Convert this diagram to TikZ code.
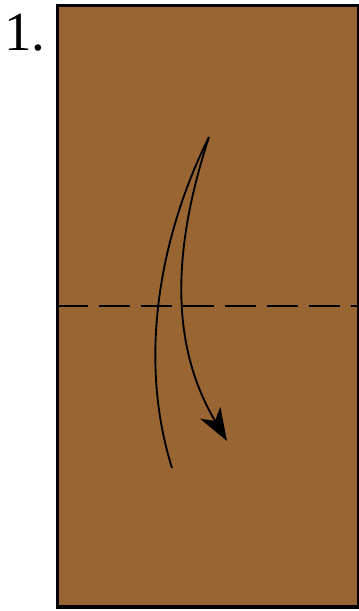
\documentclass[tikz,border=0pt]{standalone}
\usepackage{fontspec}
\setmainfont{Liberation Serif}
\usepackage{tikz}
\usetikzlibrary{arrows.meta, positioning}
\definecolor{paperbrown}{HTML}{996633}

\begin{document}
\begin{tikzpicture}[
    x=0.03cm, y=-0.03cm,
    paper/.style={fill=paperbrown, draw=black, line width=2.6pt},
    fold/.style={draw=black, line width=1.7pt, dash pattern=on 26.4pt off 9.4pt},
    curve/.style={draw=black, line width=1.6pt},
    arrow/.style={-{Stealth[length=28pt, width=20pt, inset=8pt]}, curve}
]
\useasboundingbox (0,0) rectangle (358,611);
\draw[paper] (57.5,5.5) rectangle (359,607);
\node[anchor=base west, inner sep=0pt, font=\fontsize{47}{50}\selectfont] (num) at (4,50) {1.};

\coordinate (foldL) at (57,306);
\coordinate (foldR) at (358,306);
\draw[fold] (foldL) -- (foldR);

\coordinate (tip) at (209,137);
\coordinate (tail) at (172,468);
\coordinate (head) at (227,441);
\draw[curve] (tip) .. controls (165,225) and (135,350) .. (tail);
\draw[arrow] (tip) .. controls (172,250) and (170,345) .. (head);
\end{tikzpicture}
\end{document}
